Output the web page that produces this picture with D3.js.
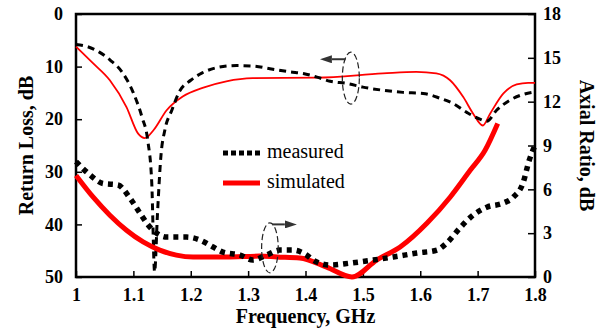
<!DOCTYPE html>
<html>
<head>
<meta charset="utf-8">
<script src="https://cdn.jsdelivr.net/npm/d3@7"></script>
<style>
  body { margin: 0; background: #fff; }
  text { font-family: "Liberation Serif", "Times New Roman", serif; }
</style>
</head>
<body>
<svg width="610" height="332"></svg>
<script>
// return loss, measured (GHz / dB)
const rlMeasFreq = [1.0, 1.02, 1.04, 1.06, 1.08, 1.1, 1.115, 1.125, 1.132, 1.137, 1.142, 1.148, 1.155, 1.167, 1.18, 1.2, 1.22, 1.25, 1.28, 1.31,
  1.338, 1.373, 1.396, 1.42, 1.443, 1.472, 1.5, 1.535, 1.57, 1.605, 1.634, 1.657, 1.681, 1.704, 1.716, 1.733, 1.756, 1.779, 1.8]
const rlMeas = [5.8, 6.2, 7.2, 8.8, 11.0, 15.0, 19.6, 24, 32, 49, 38, 27, 22, 18.3, 14.8, 12.6, 11.2, 10.1, 9.8, 9.9,
  10.4, 11.0, 11.3, 12.0, 12.8, 13.2, 13.9, 14.5, 14.9, 15.1, 16.0, 17.0, 18.7, 20.0, 20.4, 18.3, 16.4, 15.3, 14.8]

// return loss, simulated
const rlSimFreq = [1.0, 1.03, 1.059, 1.088, 1.108, 1.12, 1.135, 1.158, 1.186, 1.222, 1.262, 1.308, 1.42, 1.535, 1.593, 1.628, 1.652,
  1.675, 1.692, 1.709, 1.722, 1.745, 1.768, 1.788, 1.8]
const rlSim = [6.2, 9.4, 12.6, 17.7, 22.7, 23.6, 22.1, 18.3, 15.7, 14.0, 12.8, 12.2, 12.1, 11.3, 11.0, 11.3, 12.6,
  15.8, 18.9, 21.2, 18.9, 15.1, 13.4, 13.1, 13.1]

// axial ratio, measured (GHz / dB)
const arMeasFreq = [1.0, 1.024, 1.047, 1.073, 1.094, 1.111, 1.126, 1.138, 1.158, 1.193, 1.216, 1.239, 1.256, 1.286, 1.308, 1.332, 1.355,
  1.378, 1.402, 1.413, 1.443, 1.478, 1.518, 1.553, 1.594, 1.629, 1.646, 1.669, 1.692, 1.716, 1.744, 1.762, 1.779, 1.79, 1.8]
const arMeas = [7.9, 7.0, 6.4, 6.3, 5.4, 4.4, 3.55, 3.07, 2.73, 2.73, 2.53, 2.05, 1.7, 1.5, 1.16, 1.5, 1.84,
  1.84, 1.5, 1.16, 0.82, 0.95, 1.16, 1.37, 1.64, 1.84, 2.32, 3.35, 4.23, 4.78, 5.05, 5.46, 6.42, 8.0, 9.0]

// axial ratio, simulated
const arSimFreq = [1.0, 1.03, 1.059, 1.088, 1.117, 1.146, 1.175, 1.204, 1.262, 1.32, 1.35, 1.39, 1.437, 1.481, 1.524, 1.565, 1.612,
  1.652, 1.687, 1.713, 1.735]
const arSim = [6.95, 5.46, 4.23, 3.2, 2.4, 1.84, 1.5, 1.37, 1.37, 1.43, 1.37, 1.3, 0.68, 0.0, 1.16, 2.05, 3.69,
  5.46, 7.3, 8.67, 10.5]

const freqTicks = [1, 1.1, 1.2, 1.3, 1.4, 1.5, 1.6, 1.7, 1.8]
const rlTicks = [0, 10, 20, 30, 40, 50]
const arTicks = [0, 3, 6, 9, 12, 15, 18]

const legendNames = ['measured', 'simulated']

const svg = d3.select('svg')

const plotLeft = 76, plotRight = 535, plotTop = 14, plotBottom = 277

const x = d3.scaleLinear().domain([1, 1.8]).range([plotLeft, plotRight])
const yRL = d3.scaleLinear().domain([0, 50]).range([plotTop, plotBottom])
const yAR = d3.scaleLinear().domain([0, 18]).range([plotBottom, plotTop])

const bold = g => g.selectAll('text')
  .attr('font-family', '"Liberation Serif", serif')
  .attr('font-size', 18)
  .attr('font-weight', 'bold')
  .attr('fill', '#000')

svg.append('g')
  .attr('transform', `translate(0,${plotBottom})`)
  .call(d3.axisBottom(x).tickValues(freqTicks).tickFormat(d => String(d)).tickSize(-6).tickSizeOuter(0).tickPadding(11))
  .call(bold)
  .call(g => g.selectAll('line').attr('stroke-width', 1.5))

svg.append('g')
  .attr('transform', `translate(${plotLeft},0)`)
  .call(d3.axisLeft(yRL).tickValues(rlTicks).tickSize(-6).tickSizeOuter(0).tickPadding(13))
  .call(bold)
  .call(g => g.selectAll('line').attr('stroke-width', 1.5))

svg.append('g')
  .attr('transform', `translate(${plotRight},0)`)
  .call(d3.axisRight(yAR).tickValues(arTicks).tickSize(-7).tickSizeOuter(0).tickPadding(8))
  .call(bold)
  .call(g => g.selectAll('line').attr('stroke-width', 1.5))

svg.selectAll('.domain').remove()

// frame
svg.append('rect')
  .attr('x', plotLeft)
  .attr('y', plotTop)
  .attr('width', plotRight - plotLeft)
  .attr('height', plotBottom - plotTop)
  .attr('fill', 'none')
  .attr('stroke', '#000')
  .attr('stroke-width', 2.5)

const lineRL = d3.line().x(d => x(d[0])).y(d => yRL(d[1])).curve(d3.curveMonotoneX)
const lineAR = d3.line().x(d => x(d[0])).y(d => yAR(d[1])).curve(d3.curveMonotoneX)

const plot = svg.append('g')

plot.append('path')
  .attr('d', lineRL(d3.zip(rlSimFreq, rlSim)))
  .attr('fill', 'none')
  .attr('stroke', '#ff0000')
  .attr('stroke-width', 1.8)

plot.append('path')
  .attr('d', lineRL(d3.zip(rlMeasFreq, rlMeas)))
  .attr('fill', 'none')
  .attr('stroke', '#000')
  .attr('stroke-width', 3)
  .attr('stroke-dasharray', '7,5')

plot.append('path')
  .attr('d', lineAR(d3.zip(arSimFreq, arSim)))
  .attr('fill', 'none')
  .attr('stroke', '#ff0000')
  .attr('stroke-width', 5)

plot.append('path')
  .attr('d', lineAR(d3.zip(arMeasFreq, arMeas)))
  .attr('fill', 'none')
  .attr('stroke', '#000')
  .attr('stroke-width', 5.5)
  .attr('stroke-dasharray', '5,5')

// legend
const legend = svg.append('g')
const legendY = [153, 183]
legendNames.forEach((name, i) => {
  legend.append('line')
    .attr('x1', 223).attr('x2', 260)
    .attr('y1', legendY[i]).attr('y2', legendY[i])
    .attr('stroke', i === 0 ? '#000' : '#ff0000')
    .attr('stroke-width', 5)
    .attr('stroke-dasharray', i === 0 ? '5,3' : null)
  legend.append('text')
    .attr('x', 267)
    .attr('y', legendY[i] + 5)
    .attr('font-size', 20)
    .text(name)
})

// annotations: dashed ellipses with arrows
svg.append('defs').append('marker')
  .attr('id', 'head')
  .attr('viewBox', '0 0 12 8')
  .attr('markerUnits', 'userSpaceOnUse')
  .attr('refX', 0).attr('refY', 4)
  .attr('markerWidth', 12).attr('markerHeight', 8)
  .attr('orient', 'auto')
  .append('path')
  .attr('d', 'M0,0L12,4L0,8z')
  .attr('fill', '#333')

svg.append('ellipse')
  .attr('cx', x(1.479)).attr('cy', yRL(12.2))
  .attr('rx', 8.5).attr('ry', 26)
  .attr('fill', 'none')
  .attr('stroke', '#222')
  .attr('stroke-width', 1.2)
  .attr('stroke-dasharray', '6,3')

svg.append('line')
  .attr('x1', x(1.47)).attr('x2', x(1.446))
  .attr('y1', yRL(8.6)).attr('y2', yRL(8.6))
  .attr('stroke', '#333')
  .attr('stroke-width', 2)
  .attr('marker-end', 'url(#head)')

svg.append('ellipse')
  .attr('cx', x(1.338)).attr('cy', yAR(2.0))
  .attr('rx', 8.3).attr('ry', 25)
  .attr('fill', 'none')
  .attr('stroke', '#222')
  .attr('stroke-width', 1.2)
  .attr('stroke-dasharray', '6,3')

svg.append('line')
  .attr('x1', x(1.342)).attr('x2', x(1.364))
  .attr('y1', yAR(3.6)).attr('y2', yAR(3.6))
  .attr('stroke', '#333')
  .attr('stroke-width', 2)
  .attr('marker-end', 'url(#head)')

// axis titles
svg.append('text')
  .attr('transform', `translate(33,${(plotTop + plotBottom) / 2}) rotate(-90)`)
  .attr('text-anchor', 'middle')
  .attr('font-size', 20)
  .attr('font-weight', 'bold')
  .text('Return Loss, dB')

svg.append('text')
  .attr('transform', `translate(580,${(plotTop + plotBottom) / 2}) rotate(90)`)
  .attr('text-anchor', 'middle')
  .attr('font-size', 20)
  .attr('font-weight', 'bold')
  .text('Axial Ratio, dB')

svg.append('text')
  .attr('x', (plotLeft + plotRight) / 2)
  .attr('y', 323)
  .attr('text-anchor', 'middle')
  .attr('font-size', 20)
  .attr('font-weight', 'bold')
  .text('Frequency, GHz')
</script>
</body>
</html>
